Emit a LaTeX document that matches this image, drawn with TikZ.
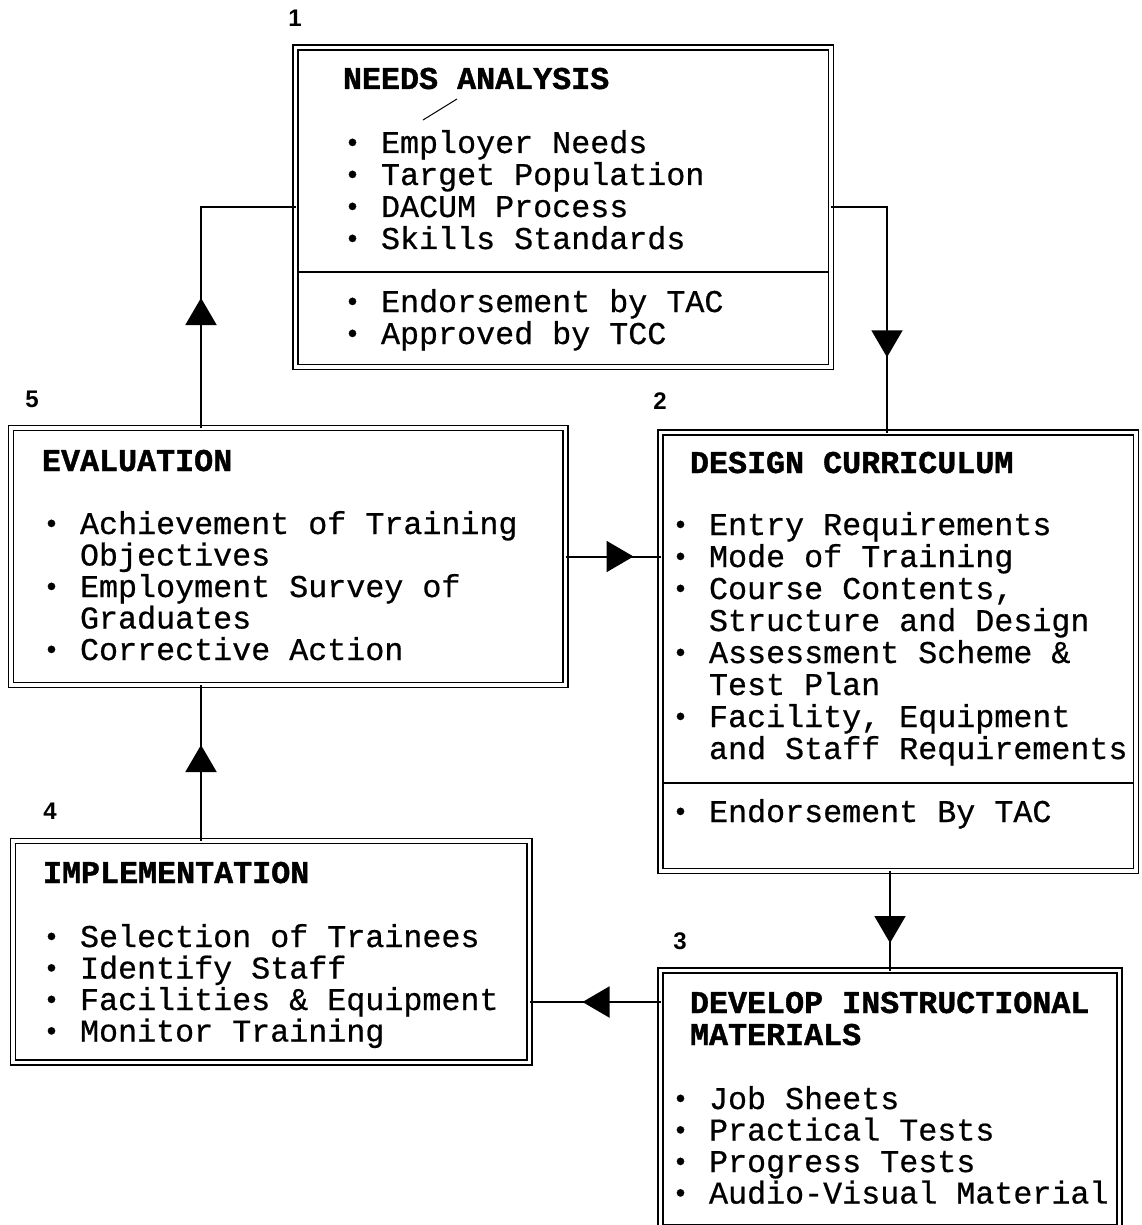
\documentclass[tikz,border=0pt]{standalone}
\usepackage{fontspec}
\newfontfamily\mono{Liberation Mono}[FakeBold=0.6]
\newfontfamily\monohead{Liberation Mono Bold}[FakeBold=1.2]
\newfontfamily\numfont{Liberation Sans}
\usetikzlibrary{arrows.meta,decorations.markings,fit}

% small round list bullet, one monospace cell wide
\newcommand{\bul}{\makebox[0.6em][c]{\raisebox{0.05em}{\scalebox{0.86}{•}}}}

\begin{document}
\begin{tikzpicture}[x=0.5pt,y=-0.5pt,
  dbox/.style={draw, rectangle, line width=0.9pt, double, double distance=1.6pt,
               inner sep=0pt, outer sep=0pt},
  txt/.style={anchor=base west, inner sep=0pt, outer sep=0pt,
              font=\mono\fontsize{15.85pt}{16pt}\selectfont},
  head/.style={txt, font=\monohead\fontsize{15.85pt}{16pt}\selectfont},
  num/.style={anchor=base, inner sep=0pt, outer sep=0pt,
              font=\numfont\bfseries\fontsize{12pt}{13pt}\selectfont},
  divider/.style={line width=0.9pt},
  flow/.style={line width=1pt, postaction={decorate},
    decoration={markings, mark=at position #1 with
      {\arrow{Triangle[width=15.5pt,length=13.5pt]}}}}]

\useasboundingbox (0,0) rectangle (1141,1225);
\clip (0,0) rectangle (1141,1225);

% ---------- stage boxes (double frames) ----------
\node[dbox, fit={(295.5,47.5) (831,367)}]   (needs) {};
\node[dbox, fit={(660.5,432.5) (1136,871)}] (design) {};
\node[dbox, fit={(660.5,970.5) (1119.5,1227)}] (develop) {};
\node[dbox, fit={(13,841) (529.5,1062.5)}]  (impl) {};
\node[dbox, fit={(11,428) (565.5,685)}]     (eval) {};

% section dividers inside boxes 1 and 2
\draw[divider] (298,272) -- (828.5,272);
\draw[divider] (663,783) -- (1133.5,783);

% ---------- stage numbers ----------
\node[num] (n1) at (295,27)  {1};
\node[num] (n2) at (660,409) {2};
\node[num] (n3) at (680,949) {3};
\node[num] (n4) at (50,819)  {4};
\node[num] (n5) at (32,407)  {5};

% ---------- 1: needs analysis ----------
\node[head] (na-h) at (343,89) {NEEDS ANALYSIS};
\draw[line width=0.5pt] (423,120) -- (457,99);
\foreach \t [count=\i] in {Employer Needs, Target Population, DACUM Process, Skills Standards}
  \node[txt] (na-\i) at (343,{153+(\i-1)*32}) {\bul\ \t};
\node[txt] (na-5) at (343,312) {\bul\ Endorsement by TAC};
\node[txt] (na-6) at (343,344) {\bul\ Approved by TCC};

% ---------- 2: design curriculum ----------
\node[head] (dc-h) at (690,473) {DESIGN CURRICULUM};
\node[txt] (dc-1) at (671,535) {\bul\ Entry Requirements};
\node[txt] (dc-2) at (671,567) {\bul\ Mode of Training};
\node[txt] (dc-3) at (671,599) {\bul\ Course Contents,};
\node[txt] (dc-4) at (709,631) {Structure and Design};
\node[txt] (dc-5) at (671,663) {\bul\ Assessment Scheme \&};
\node[txt] (dc-6) at (709,695) {Test Plan};
\node[txt] (dc-7) at (671,727) {\bul\ Facility, Equipment};
\node[txt] (dc-8) at (709,759) {and Staff Requirements};
\node[txt] (dc-9) at (671,822) {\bul\ Endorsement By TAC};

% ---------- 3: develop instructional materials ----------
\node[head] (dm-h1) at (690,1013) {DEVELOP INSTRUCTIONAL};
\node[head] (dm-h2) at (690,1045) {MATERIALS};
\foreach \t [count=\i] in {Job Sheets, Practical Tests, Progress Tests, Audio-Visual Material}
  \node[txt] (dm-\i) at (671,{1109+(\i-1)*31.5}) {\bul\ \t};

% ---------- 4: implementation ----------
\node[head] (im-h) at (43,883) {IMPLEMENTATION};
\foreach \t [count=\i] in {Selection of Trainees, Identify Staff, Facilities \& Equipment, Monitor Training}
  \node[txt] (im-\i) at (42,{947+(\i-1)*31.5}) {\bul\ \t};

% ---------- 5: evaluation ----------
\node[head] (ev-h) at (42,471) {EVALUATION};
\node[txt] (ev-1) at (42,534)   {\bul\ Achievement of Training};
\node[txt] (ev-2) at (80,565.5) {Objectives};
\node[txt] (ev-3) at (42,597)   {\bul\ Employment Survey of};
\node[txt] (ev-4) at (80,628.5) {Graduates};
\node[txt] (ev-5) at (42,660)   {\bul\ Corrective Action};

% ---------- connectors ----------
\coordinate (xl) at (201,0);
\coordinate (xr) at (887,0);
\coordinate (xd) at (890,0);
\coordinate (yb) at (0,1002);

\draw[flow=65pt]   (xl |- eval.north) |- (needs.west);
\draw[flow=103pt]  (needs.east) -| (xr |- design.north);
\draw[flow=34pt]   (eval.east) -- (design.west |- eval.east);
\draw[flow=36pt]   (xd |- design.south) -- (xd |- develop.north);
\draw[flow=39pt]   (develop.west |- yb) -- (impl.east |- yb);
\draw[flow=48pt]   (xl |- impl.north) -- (xl |- eval.south);

\end{tikzpicture}
\end{document}
